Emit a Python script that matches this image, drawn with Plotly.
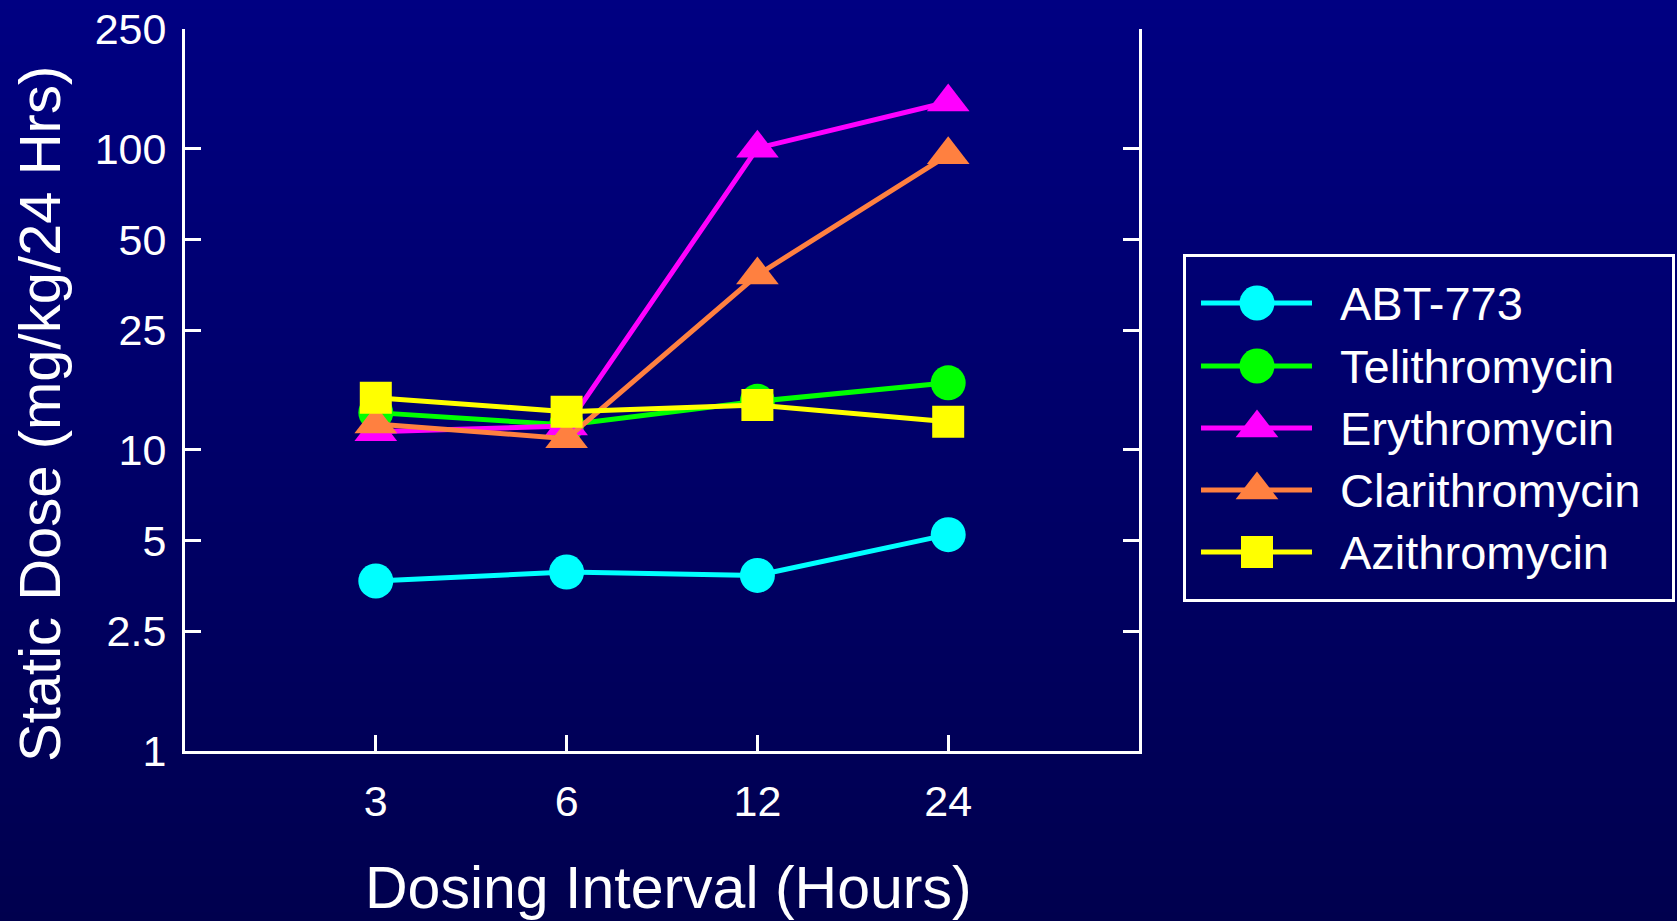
import base64
import math
import struct
import zlib

import plotly.graph_objects as go

# ---------------- data ----------------
intervals = [3, 6, 12, 24]
interval_labels = ["3", "6", "12", "24"]

abt773 = [3.67, 3.93, 3.83, 5.23]
telithromycin = [13.3, 12.1, 14.5, 16.7]
erythromycin = [11.5, 12.0, 100.5, 143.0]
clarithromycin = [12.2, 10.9, 38.1, 95.5]
azithromycin = [14.9, 13.4, 14.1, 12.4]

series_names = ["ABT-773", "Telithromycin", "Erythromycin", "Clarithromycin", "Azithromycin"]
series_values = [abt773, telithromycin, erythromycin, clarithromycin, azithromycin]
series_colors = ["#00FFFF", "#00FF00", "#FF00FF", "#FF8040", "#FFFF00"]
series_symbols = ["circle", "circle", "triangle-up", "triangle-up", "square"]
series_sizes = [35, 35, 37, 37, 32]

y_tickvals = [1, 2.5, 5, 10, 25, 50, 100, 250]
y_ticktext = ["1", "2.5", "5", "10", "25", "50", "100", "250"]

x_title = "Dosing Interval (Hours)"
y_title = "Static Dose (mg/kg/24 Hrs)"

# ---------------- layout constants (pixels) ----------------
W, H = 1677, 921
PLOT_L, PLOT_R, PLOT_T, PLOT_B = 185, 1139, 29, 751
LEG_L, LEG_R, LEG_T, LEG_B = 1183, 1675, 254, 602
LEG_LINE_X0, LEG_LINE_X1, LEG_MARK_X, LEG_TEXT_X = 1201, 1312, 1257, 1338
LEG_ROWS = [303, 366, 428, 490, 552]
FONT = "Liberation Sans, Arial, Helvetica, sans-serif"


def px(x):
    return x / W


def py(y):
    return 1 - y / H


# ---------------- background gradient image ----------------
def gradient_png(h, top, bottom):
    rows = b""
    for i in range(h):
        t = i / (h - 1)
        c = [round(top[k] + (bottom[k] - top[k]) * t) for k in range(3)]
        rows += b"\x00" + bytes(c)
    def chunk(tag, data):
        return struct.pack(">I", len(data)) + tag + data + struct.pack(">I", zlib.crc32(tag + data) & 0xFFFFFFFF)
    png = b"\x89PNG\r\n\x1a\n"
    png += chunk(b"IHDR", struct.pack(">IIBBBBB", 1, h, 8, 2, 0, 0, 0))
    png += chunk(b"IDAT", zlib.compress(rows, 9))
    png += chunk(b"IEND", b"")
    return "data:image/png;base64," + base64.b64encode(png).decode()


bg = gradient_png(H, (0, 0, 130), (0, 0, 78))

fig = go.Figure()

# ---------------- main series ----------------
for name, vals, col, sym, sz in zip(series_names, series_values, series_colors, series_symbols, series_sizes):
    fig.add_trace(go.Scatter(
        x=intervals, y=vals, name=name, mode="lines+markers",
        line=dict(color=col, width=5),
        marker=dict(symbol=sym, size=sz, color=col, line=dict(width=0)),
        xaxis="x", yaxis="y", showlegend=False, cliponaxis=False,
    ))

# ---------------- custom legend swatches ----------------
annotations = []
for name, col, sym, sz, ry in zip(series_names, series_colors, series_symbols, series_sizes, LEG_ROWS):
    fig.add_trace(go.Scatter(
        x=[LEG_LINE_X0, LEG_LINE_X1], y=[ry, ry], mode="lines",
        line=dict(color=col, width=5), xaxis="x3", yaxis="y3",
        showlegend=False, hoverinfo="skip",
    ))
    fig.add_trace(go.Scatter(
        x=[LEG_MARK_X], y=[ry], mode="markers",
        marker=dict(symbol=sym, size=sz, color=col, line=dict(width=0)),
        xaxis="x3", yaxis="y3", showlegend=False, hoverinfo="skip",
    ))
    annotations.append(dict(
        x=LEG_TEXT_X, y=ry, xref="x3", yref="y3", text=name, showarrow=False,
        xanchor="left", yanchor="middle", font=dict(family=FONT, size=47, color="white"),
    ))

annotations.append(dict(
    x=px(668), y=py(888), xref="paper", yref="paper", text=x_title, showarrow=False,
    xanchor="center", yanchor="middle", font=dict(family=FONT, size=59, color="white"),
))
annotations.append(dict(
    x=px(39), y=py(414), xref="paper", yref="paper", text=y_title, showarrow=False,
    textangle=-90, xanchor="center", yanchor="middle",
    font=dict(family=FONT, size=58, color="white"),
))

axis_common = dict(
    showline=True, linecolor="white", linewidth=3,
    ticks="inside", ticklen=16, tickwidth=3, tickcolor="white",
    showgrid=False, zeroline=False, automargin=False,
    tickfont=dict(family=FONT, size=43, color="white"),
)

fig.update_layout(
    template="none",
    width=W, height=H, autosize=False,
    margin=dict(l=0, r=0, t=0, b=0, pad=0, autoexpand=False),
    paper_bgcolor="#000068",
    plot_bgcolor="rgba(0,0,0,0)",
    font=dict(family=FONT, color="white"),
    images=[dict(source=bg, xref="paper", yref="paper", x=0, y=1, sizex=1, sizey=1,
                 sizing="stretch", xanchor="left", yanchor="top", layer="below")],
    xaxis=dict(
        domain=[px(PLOT_L), px(PLOT_R)], anchor="y", type="log",
        range=[math.log10(1.5), math.log10(48)],
        tickmode="array", tickvals=intervals, ticktext=interval_labels,
        ticklabelstandoff=10, **axis_common,
    ),
    yaxis=dict(
        domain=[py(PLOT_B), py(PLOT_T)], anchor="x", type="log",
        range=[0, math.log10(250)],
        tickmode="array", tickvals=y_tickvals, ticktext=y_ticktext,
        mirror="ticks", ticklabelstandoff=7, **axis_common,
    ),
    xaxis3=dict(domain=[0, 1], anchor="y3", range=[0, W], visible=False,
                fixedrange=True, automargin=False),
    yaxis3=dict(domain=[0, 1], anchor="x3", range=[H, 0], visible=False,
                fixedrange=True, automargin=False),
    shapes=[dict(type="rect", xref="paper", yref="paper",
                 x0=px(LEG_L + 1.5), x1=px(LEG_R - 1.5), y0=py(LEG_B - 1.5), y1=py(LEG_T + 1.5),
                 line=dict(color="white", width=3), fillcolor="rgba(0,0,0,0)", layer="above")],
    annotations=annotations,
    showlegend=False,
)

fig.write_html("out.html")
